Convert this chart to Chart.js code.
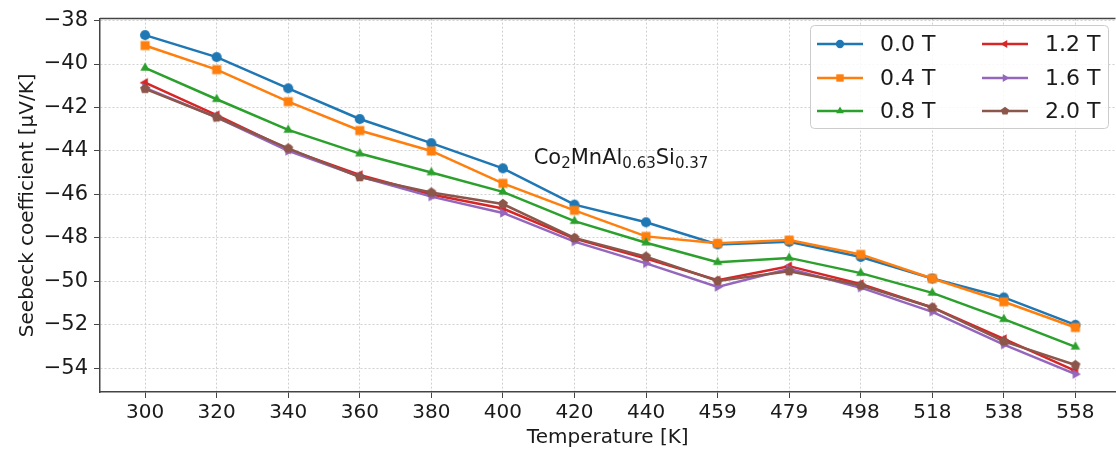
<!DOCTYPE html>
<html>
<head>
<meta charset="utf-8">
<script src="https://cdn.jsdelivr.net/npm/chart.js@4/dist/chart.umd.min.js"></script>
<style>
  body { margin: 0; background: #fff; overflow: hidden; }
  #wrap { width: 1124px; height: 456px; }
</style>
</head>
<body>
<div id="wrap"><canvas id="myChart"></canvas></div>
<script>
// temperatures (K)
var temps = [300, 320, 340, 360, 380, 400, 420, 440, 459, 479, 498, 518, 538, 558];
var yTicks = [-54, -52, -50, -48, -46, -44, -42, -40, -38];
var fieldLabels = ['0.0 T', '0.4 T', '0.8 T', '1.2 T', '1.6 T', '2.0 T'];

// Seebeck coefficient (uV/K) per field
var s00 = [-38.67, -39.68, -41.12, -42.53, -43.64, -44.80, -46.47, -47.28, -48.30, -48.18, -48.88, -49.87, -50.74, -52.00];
var s04 = [-39.15, -40.26, -41.73, -43.06, -44.00, -45.49, -46.73, -47.93, -48.25, -48.10, -48.76, -49.87, -50.94, -52.12];
var s08 = [-40.18, -41.62, -43.03, -44.12, -44.99, -45.88, -47.23, -48.22, -49.12, -48.92, -49.62, -50.53, -51.74, -53.01];
var s12 = [-40.86, -42.35, -43.93, -45.10, -46.00, -46.65, -48.03, -48.95, -49.95, -49.30, -50.12, -51.20, -52.65, -54.12];
var s16 = [-41.10, -42.45, -44.00, -45.18, -46.10, -46.85, -48.17, -49.17, -50.26, -49.42, -50.29, -51.40, -52.91, -54.27];
var s20 = [-41.14, -42.45, -43.88, -45.20, -45.91, -46.44, -48.00, -48.86, -49.98, -49.53, -50.18, -51.20, -52.76, -53.85];

var allSeries = [s00, s04, s08, s12, s16, s20];
var colors = ['#1f77b4', '#ff7f0e', '#2ca02c', '#d62728', '#9467bd', '#8c564b'];
var shapes = ['circle', 'square', 'up', 'left', 'right', 'pentagon'];

var FONT = "'DejaVu Sans', sans-serif";

// small canvases used as point markers
function makeMarker(shape, color, size) {
    var c = document.createElement('canvas');
    c.width = size; c.height = size;
    var g = c.getContext('2d');
    var h = size / 2, r = size / 2 - 0.5;
    g.fillStyle = color;
    g.beginPath();
    if (shape === 'circle') {
        g.arc(h, h, r * 0.92, 0, Math.PI * 2);
    } else if (shape === 'square') {
        var s = r * 0.82;
        g.rect(h - s, h - s, s * 2, s * 2);
    } else if (shape === 'pentagon') {
        for (var k = 0; k < 5; k++) {
            var a = -Math.PI / 2 + k * 2 * Math.PI / 5;
            var px = h + r * 0.95 * Math.cos(a), py = h + r * 0.95 * Math.sin(a);
            if (k === 0) g.moveTo(px, py); else g.lineTo(px, py);
        }
    } else {
        var rot = { up: -Math.PI / 2, left: Math.PI, right: 0 }[shape];
        for (var j = 0; j < 3; j++) {
            var b = rot + j * 2 * Math.PI / 3;
            var qx = h + r * Math.cos(b), qy = h + r * Math.sin(b);
            if (j === 0) g.moveTo(qx, qy); else g.lineTo(qx, qy);
        }
    }
    g.closePath();
    g.fill();
    return c;
}

var markers = shapes.map(function (s, i) { return makeMarker(s, colors[i], 12); });
var legendMarkers = shapes.map(function (s, i) { return makeMarker(s, colors[i], 10); });

var datasets = allSeries.map(function (vals, i) {
    return {
        label: fieldLabels[i],
        data: vals.map(function (v, k) { return { x: k, y: v }; }),
        borderColor: colors[i],
        backgroundColor: colors[i],
        borderWidth: 2.5,
        pointStyle: markers[i],
        pointRadius: 6,
        tension: 0,
        order: allSeries.length - i
    };
});

/* top spine, formula label and legend */
var extras = {
    id: 'extras',
    afterDraw: function (chart) {
        var c = chart.ctx, a = chart.chartArea;
        c.save();
        c.strokeStyle = '#444';
        c.lineWidth = 1.5;
        c.beginPath();
        c.moveTo(a.left, a.top);
        c.lineTo(a.right, a.top);
        c.stroke();

        // formula
        var xs = chart.scales.x, ys = chart.scales.y;
        var x = xs.getPixelForValue(5.43), y = ys.getPixelForValue(-44.6);
        var parts = [['Co', 0], ['2', 1], ['MnAl', 0], ['0.63', 1], ['Si', 0], ['0.37', 1]];
        c.fillStyle = '#1a1a1a';
        c.textBaseline = 'alphabetic';
        c.textAlign = 'left';
        parts.forEach(function (p) {
            c.font = (p[1] ? '15px ' : '21px ') + FONT;
            c.fillText(p[0], x, y + (p[1] ? 4 : 0));
            x += c.measureText(p[0]).width;
        });

        // legend, 2 columns
        var bx = 810, by = 25, bw = 298, bh = 103;
        c.fillStyle = 'rgba(255,255,255,0.85)';
        c.strokeStyle = '#cccccc';
        c.lineWidth = 1;
        c.beginPath();
        c.roundRect(bx + 0.5, by + 0.5, bw, bh, 4);
        c.fill();
        c.stroke();
        c.font = '22px ' + FONT;
        c.textBaseline = 'middle';
        chart.data.datasets.forEach(function (ds, i) {
            var col = Math.floor(i / 3), row = i % 3;
            var lx = col ? 982 : 817;
            var ly = [44, 78, 111][row];
            c.strokeStyle = ds.borderColor;
            c.lineWidth = 2.5;
            c.beginPath();
            c.moveTo(lx, ly);
            c.lineTo(lx + 46, ly);
            c.stroke();
            c.drawImage(legendMarkers[i], lx + 23 - 5, ly - 5);
            c.fillStyle = '#1a1a1a';
            c.fillText(ds.label, lx + 63, ly + 1);
        });
        c.restore();
    }
};

var ctx = document.getElementById('myChart').getContext('2d');
var myChart = new Chart(ctx, {
    type: 'line',
    data: { datasets: datasets },
    options: {
        responsive: true,
        maintainAspectRatio: false,
        animation: false,
        layout: { padding: { top: 15, right: 4, left: 0, bottom: 0 } },
        plugins: { legend: { display: false }, tooltip: { enabled: false } },
        scales: {
            x: {
                type: 'linear',
                min: -0.63,
                max: 13.56,
                afterBuildTicks: function (axis) {
                    axis.ticks = temps.map(function (t, i) { return { value: i }; });
                },
                afterFit: function (axis) { axis.height = 64; },
                ticks: {
                    autoSkip: false,
                    maxRotation: 0,
                    padding: 3,
                    color: '#1a1a1a',
                    font: { family: FONT, size: 20 },
                    callback: function (v) { return temps[v]; }
                },
                grid: { color: '#d0d0d0', lineWidth: 1, tickColor: '#444', tickLength: 6, tickBorderDash: [] },
                border: { color: '#444', width: 1.5, dash: [2, 2] },
                title: {
                    display: true,
                    text: 'Temperature [K]',
                    color: '#1a1a1a',
                    font: { family: FONT, size: 20 },
                    padding: { top: 0, bottom: 6 }
                }
            },
            y: {
                min: -55.09,
                max: -37.91,
                afterBuildTicks: function (axis) {
                    axis.ticks = yTicks.map(function (v) { return { value: v }; });
                },
                afterFit: function (axis) { axis.width = 100; },
                ticks: {
                    padding: 6,
                    color: '#1a1a1a',
                    font: { family: FONT, size: 21 },
                    callback: function (v) { return '\u2212' + Math.abs(v); }
                },
                grid: { color: '#d0d0d0', lineWidth: 1, tickColor: '#444', tickLength: 6, tickBorderDash: [] },
                border: { color: '#444', width: 1.5, dash: [2, 2] },
                title: {
                    display: true,
                    text: 'Seebeck coefficient [\u00b5V/K]',
                    color: '#1a1a1a',
                    font: { family: FONT, size: 20 },
                    padding: { top: 16, bottom: 0 }
                }
            }
        }
    },
    plugins: [extras]
});
</script>
</body>
</html>
